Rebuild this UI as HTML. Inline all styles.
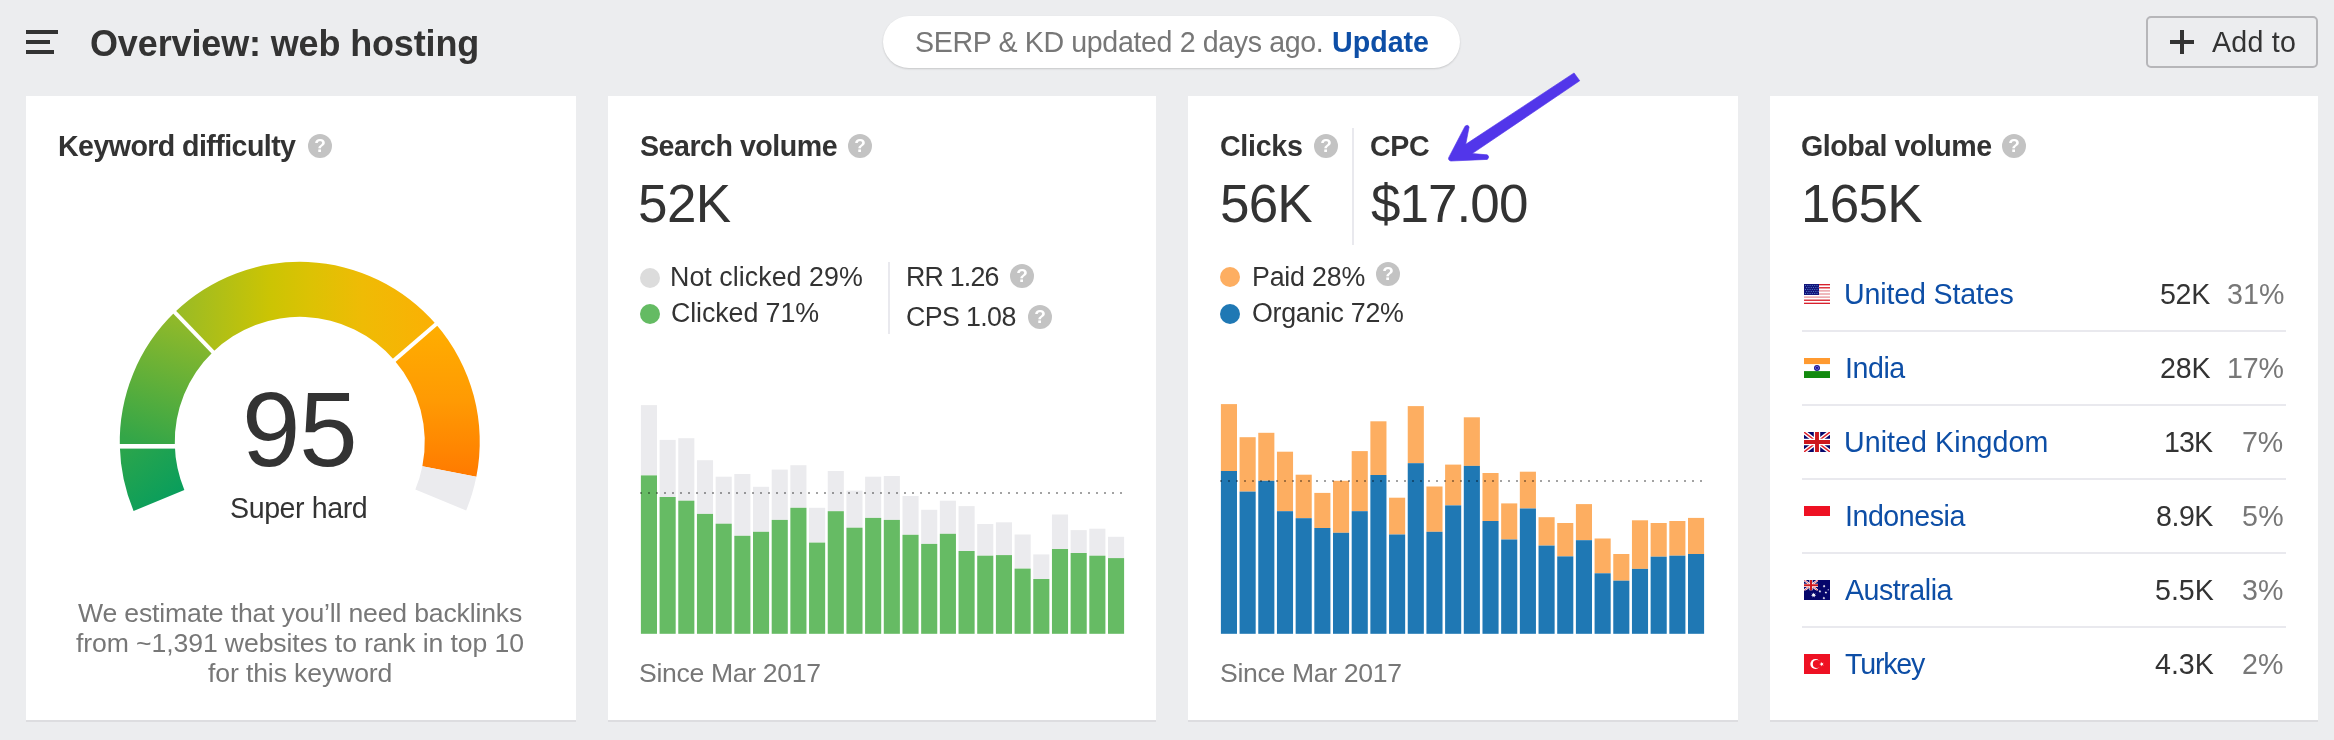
<!DOCTYPE html>
<html><head><meta charset="utf-8"><title>Overview</title><style>
*{margin:0;padding:0;box-sizing:border-box}
html,body{width:2334px;height:740px;overflow:hidden}
body{background:#ecedef;font-family:"Liberation Sans",sans-serif;color:#333;position:relative}
.card{position:absolute;top:96px;height:624px;background:#fff;box-shadow:0 2px 0 #dddde0}
.t{position:absolute;white-space:nowrap;line-height:1;will-change:transform}
.b{font-weight:bold}
.g{color:#777}
.lnk{color:#0d4ea6}
.abs{position:absolute}
.dot{position:absolute;width:20px;height:20px;border-radius:50%}
.q{position:absolute;width:24px;height:24px;border-radius:50%;background:#c3c3c3;color:#fff;font-weight:bold;font-size:19px;line-height:24px;text-align:center;will-change:transform}
.sep{position:absolute;left:1802px;width:484px;height:2px;background:#e9e9ee}
</style></head><body>
<div class="abs" style="left:26px;top:30px;width:32px;height:4px;background:#333"></div>
<div class="abs" style="left:26px;top:40px;width:24px;height:4px;background:#333"></div>
<div class="abs" style="left:26px;top:50px;width:28px;height:4px;background:#333"></div>
<div class="abs" style="left:883px;top:16px;width:577px;height:52px;border-radius:26px;background:#fff;box-shadow:0 1px 2px rgba(0,0,0,.16)"></div>
<div class="abs" style="left:2146px;top:16px;width:172px;height:52px;border:2px solid #b6b6b9;border-radius:5px"></div>
<svg class="abs" style="left:2170px;top:30px" width="24" height="24" viewBox="0 0 24 24"><path d="M12 0v24M0 12h24" stroke="#333" stroke-width="4" fill="none"/></svg>
<div class="card" style="left:26px;width:550px"></div>
<div class="q" style="left:308px;top:134px">?</div>
<svg class="abs" style="left:0;top:0" width="600" height="740" viewBox="0 0 600 740">
<defs>
<linearGradient id="g1" gradientUnits="userSpaceOnUse" x1="130" y1="446" x2="175" y2="505"><stop offset="0" stop-color="#2aa54c"/><stop offset="1" stop-color="#069d5e"/></linearGradient>
<linearGradient id="g2" gradientUnits="userSpaceOnUse" x1="190" y1="325" x2="150" y2="446"><stop offset="0" stop-color="#8fb92a"/><stop offset="1" stop-color="#33a648"/></linearGradient>
<linearGradient id="g3" gradientUnits="userSpaceOnUse" x1="176" y1="0" x2="435" y2="0"><stop offset="0" stop-color="#98bb26"/><stop offset="0.36" stop-color="#cbc404"/><stop offset="0.52" stop-color="#dcc204"/><stop offset="0.72" stop-color="#efbb05"/><stop offset="1" stop-color="#fbb004"/></linearGradient>
<linearGradient id="g4" gradientUnits="userSpaceOnUse" x1="0" y1="325" x2="0" y2="477"><stop offset="0" stop-color="#ffae00"/><stop offset="0.5" stop-color="#ff9a03"/><stop offset="1" stop-color="#ff7a00"/></linearGradient>
</defs>
<path d="M133.57 511.02A180.0 180.0 0 0 1 119.81 446.56L174.79 445.12A125.0 125.0 0 0 0 184.35 489.89Z" fill="url(#g1)"/>
<path d="M119.81 446.56A180.0 180.0 0 0 1 174.71 312.37L212.92 351.93A125.0 125.0 0 0 0 174.79 445.12Z" fill="url(#g2)"/>
<path d="M174.71 312.37A180.0 180.0 0 0 1 436.01 324.23L394.37 360.17A125.0 125.0 0 0 0 212.92 351.93Z" fill="url(#g3)"/>
<path d="M436.01 324.23A180.0 180.0 0 0 1 476.32 476.81L422.37 466.13A125.0 125.0 0 0 0 394.37 360.17Z" fill="url(#g4)"/>
<path d="M476.32 476.81A180.0 180.0 0 0 1 466.17 510.44L415.32 489.48A125.0 125.0 0 0 0 422.37 466.13Z" fill="#ebebee"/>
<rect x="115" y="444" width="65" height="4.6" fill="#fff"/>
<line x1="172.63" y1="310.21" x2="215.00" y2="354.09" stroke="#fff" stroke-width="4"/>
<line x1="438.28" y1="322.27" x2="392.10" y2="362.13" stroke="#fff" stroke-width="4"/>
</svg>
<div class="card" style="left:608px;width:548px"></div>
<div class="q" style="left:848px;top:134px">?</div>
<div class="dot" style="left:640px;top:268px;background:#dcdcdc"></div>
<div class="dot" style="left:640px;top:304px;background:#64bb63"></div>
<div class="abs" style="left:888px;top:262px;width:2px;height:72px;background:#e9e9ee"></div>
<div class="q" style="left:1010px;top:264px">?</div>
<div class="q" style="left:1028px;top:305px">?</div>
<svg class="abs" style="left:0;top:0" width="2334" height="740" viewBox="0 0 2334 740">
<rect x="640.90" y="405.1" width="16.1" height="70.3" fill="#ebebee"/>
<rect x="640.90" y="475.4" width="16.1" height="158.4" fill="#66bb64"/>
<rect x="659.58" y="439.9" width="16.1" height="57.1" fill="#ebebee"/>
<rect x="659.58" y="497.0" width="16.1" height="136.8" fill="#66bb64"/>
<rect x="678.27" y="438.2" width="16.1" height="62.5" fill="#ebebee"/>
<rect x="678.27" y="500.7" width="16.1" height="133.1" fill="#66bb64"/>
<rect x="696.95" y="460.2" width="16.1" height="53.7" fill="#ebebee"/>
<rect x="696.95" y="513.9" width="16.1" height="119.9" fill="#66bb64"/>
<rect x="715.64" y="476.7" width="16.1" height="47.0" fill="#ebebee"/>
<rect x="715.64" y="523.7" width="16.1" height="110.1" fill="#66bb64"/>
<rect x="734.32" y="474.0" width="16.1" height="61.8" fill="#ebebee"/>
<rect x="734.32" y="535.8" width="16.1" height="98.0" fill="#66bb64"/>
<rect x="753.00" y="486.8" width="16.1" height="45.0" fill="#ebebee"/>
<rect x="753.00" y="531.8" width="16.1" height="102.0" fill="#66bb64"/>
<rect x="771.69" y="469.6" width="16.1" height="50.3" fill="#ebebee"/>
<rect x="771.69" y="519.9" width="16.1" height="113.9" fill="#66bb64"/>
<rect x="790.37" y="465.2" width="16.1" height="42.6" fill="#ebebee"/>
<rect x="790.37" y="507.8" width="16.1" height="126.0" fill="#66bb64"/>
<rect x="809.06" y="507.8" width="16.1" height="34.8" fill="#ebebee"/>
<rect x="809.06" y="542.6" width="16.1" height="91.2" fill="#66bb64"/>
<rect x="827.74" y="471.0" width="16.1" height="40.2" fill="#ebebee"/>
<rect x="827.74" y="511.2" width="16.1" height="122.6" fill="#66bb64"/>
<rect x="846.42" y="490.6" width="16.1" height="37.1" fill="#ebebee"/>
<rect x="846.42" y="527.7" width="16.1" height="106.1" fill="#66bb64"/>
<rect x="865.11" y="476.7" width="16.1" height="41.2" fill="#ebebee"/>
<rect x="865.11" y="517.9" width="16.1" height="115.9" fill="#66bb64"/>
<rect x="883.79" y="476.0" width="16.1" height="43.9" fill="#ebebee"/>
<rect x="883.79" y="519.9" width="16.1" height="113.9" fill="#66bb64"/>
<rect x="902.48" y="496.0" width="16.1" height="38.8" fill="#ebebee"/>
<rect x="902.48" y="534.8" width="16.1" height="99.0" fill="#66bb64"/>
<rect x="921.16" y="509.8" width="16.1" height="34.1" fill="#ebebee"/>
<rect x="921.16" y="543.9" width="16.1" height="89.9" fill="#66bb64"/>
<rect x="939.84" y="500.7" width="16.1" height="33.1" fill="#ebebee"/>
<rect x="939.84" y="533.8" width="16.1" height="100.0" fill="#66bb64"/>
<rect x="958.53" y="506.1" width="16.1" height="44.9" fill="#ebebee"/>
<rect x="958.53" y="551.0" width="16.1" height="82.8" fill="#66bb64"/>
<rect x="977.21" y="524.0" width="16.1" height="31.7" fill="#ebebee"/>
<rect x="977.21" y="555.7" width="16.1" height="78.1" fill="#66bb64"/>
<rect x="995.90" y="522.3" width="16.1" height="32.8" fill="#ebebee"/>
<rect x="995.90" y="555.1" width="16.1" height="78.7" fill="#66bb64"/>
<rect x="1014.58" y="534.5" width="16.1" height="34.1" fill="#ebebee"/>
<rect x="1014.58" y="568.6" width="16.1" height="65.2" fill="#66bb64"/>
<rect x="1033.26" y="554.4" width="16.1" height="24.6" fill="#ebebee"/>
<rect x="1033.26" y="579.0" width="16.1" height="54.8" fill="#66bb64"/>
<rect x="1051.95" y="514.5" width="16.1" height="34.5" fill="#ebebee"/>
<rect x="1051.95" y="549.0" width="16.1" height="84.8" fill="#66bb64"/>
<rect x="1070.63" y="530.1" width="16.1" height="22.9" fill="#ebebee"/>
<rect x="1070.63" y="553.0" width="16.1" height="80.8" fill="#66bb64"/>
<rect x="1089.32" y="528.7" width="16.1" height="27.0" fill="#ebebee"/>
<rect x="1089.32" y="555.7" width="16.1" height="78.1" fill="#66bb64"/>
<rect x="1108.00" y="536.8" width="16.1" height="21.3" fill="#ebebee"/>
<rect x="1108.00" y="558.1" width="16.1" height="75.7" fill="#66bb64"/>
<rect x="640" y="492" width="2" height="2" fill="rgba(0,0,0,.36)"/><rect x="648" y="492" width="2" height="2" fill="rgba(0,0,0,.36)"/><rect x="656" y="492" width="2" height="2" fill="rgba(0,0,0,.36)"/><rect x="664" y="492" width="2" height="2" fill="rgba(0,0,0,.36)"/><rect x="672" y="492" width="2" height="2" fill="rgba(0,0,0,.36)"/><rect x="680" y="492" width="2" height="2" fill="rgba(0,0,0,.36)"/><rect x="688" y="492" width="2" height="2" fill="rgba(0,0,0,.36)"/><rect x="696" y="492" width="2" height="2" fill="rgba(0,0,0,.36)"/><rect x="704" y="492" width="2" height="2" fill="rgba(0,0,0,.36)"/><rect x="712" y="492" width="2" height="2" fill="rgba(0,0,0,.36)"/><rect x="720" y="492" width="2" height="2" fill="rgba(0,0,0,.36)"/><rect x="728" y="492" width="2" height="2" fill="rgba(0,0,0,.36)"/><rect x="736" y="492" width="2" height="2" fill="rgba(0,0,0,.36)"/><rect x="744" y="492" width="2" height="2" fill="rgba(0,0,0,.36)"/><rect x="752" y="492" width="2" height="2" fill="rgba(0,0,0,.36)"/><rect x="760" y="492" width="2" height="2" fill="rgba(0,0,0,.36)"/><rect x="768" y="492" width="2" height="2" fill="rgba(0,0,0,.36)"/><rect x="776" y="492" width="2" height="2" fill="rgba(0,0,0,.36)"/><rect x="784" y="492" width="2" height="2" fill="rgba(0,0,0,.36)"/><rect x="792" y="492" width="2" height="2" fill="rgba(0,0,0,.36)"/><rect x="800" y="492" width="2" height="2" fill="rgba(0,0,0,.36)"/><rect x="808" y="492" width="2" height="2" fill="rgba(0,0,0,.36)"/><rect x="816" y="492" width="2" height="2" fill="rgba(0,0,0,.36)"/><rect x="824" y="492" width="2" height="2" fill="rgba(0,0,0,.36)"/><rect x="832" y="492" width="2" height="2" fill="rgba(0,0,0,.36)"/><rect x="840" y="492" width="2" height="2" fill="rgba(0,0,0,.36)"/><rect x="848" y="492" width="2" height="2" fill="rgba(0,0,0,.36)"/><rect x="856" y="492" width="2" height="2" fill="rgba(0,0,0,.36)"/><rect x="864" y="492" width="2" height="2" fill="rgba(0,0,0,.36)"/><rect x="872" y="492" width="2" height="2" fill="rgba(0,0,0,.36)"/><rect x="880" y="492" width="2" height="2" fill="rgba(0,0,0,.36)"/><rect x="888" y="492" width="2" height="2" fill="rgba(0,0,0,.36)"/><rect x="896" y="492" width="2" height="2" fill="rgba(0,0,0,.36)"/><rect x="904" y="492" width="2" height="2" fill="rgba(0,0,0,.36)"/><rect x="912" y="492" width="2" height="2" fill="rgba(0,0,0,.36)"/><rect x="920" y="492" width="2" height="2" fill="rgba(0,0,0,.36)"/><rect x="928" y="492" width="2" height="2" fill="rgba(0,0,0,.36)"/><rect x="936" y="492" width="2" height="2" fill="rgba(0,0,0,.36)"/><rect x="944" y="492" width="2" height="2" fill="rgba(0,0,0,.36)"/><rect x="952" y="492" width="2" height="2" fill="rgba(0,0,0,.36)"/><rect x="960" y="492" width="2" height="2" fill="rgba(0,0,0,.36)"/><rect x="968" y="492" width="2" height="2" fill="rgba(0,0,0,.36)"/><rect x="976" y="492" width="2" height="2" fill="rgba(0,0,0,.36)"/><rect x="984" y="492" width="2" height="2" fill="rgba(0,0,0,.36)"/><rect x="992" y="492" width="2" height="2" fill="rgba(0,0,0,.36)"/><rect x="1000" y="492" width="2" height="2" fill="rgba(0,0,0,.36)"/><rect x="1008" y="492" width="2" height="2" fill="rgba(0,0,0,.36)"/><rect x="1016" y="492" width="2" height="2" fill="rgba(0,0,0,.36)"/><rect x="1024" y="492" width="2" height="2" fill="rgba(0,0,0,.36)"/><rect x="1032" y="492" width="2" height="2" fill="rgba(0,0,0,.36)"/><rect x="1040" y="492" width="2" height="2" fill="rgba(0,0,0,.36)"/><rect x="1048" y="492" width="2" height="2" fill="rgba(0,0,0,.36)"/><rect x="1056" y="492" width="2" height="2" fill="rgba(0,0,0,.36)"/><rect x="1064" y="492" width="2" height="2" fill="rgba(0,0,0,.36)"/><rect x="1072" y="492" width="2" height="2" fill="rgba(0,0,0,.36)"/><rect x="1080" y="492" width="2" height="2" fill="rgba(0,0,0,.36)"/><rect x="1088" y="492" width="2" height="2" fill="rgba(0,0,0,.36)"/><rect x="1096" y="492" width="2" height="2" fill="rgba(0,0,0,.36)"/><rect x="1104" y="492" width="2" height="2" fill="rgba(0,0,0,.36)"/><rect x="1112" y="492" width="2" height="2" fill="rgba(0,0,0,.36)"/><rect x="1120" y="492" width="2" height="2" fill="rgba(0,0,0,.36)"/>
</svg>
<div class="card" style="left:1188px;width:550px"></div>
<div class="q" style="left:1314px;top:134px">?</div>
<div class="abs" style="left:1352px;top:128px;width:2px;height:117px;background:#e9e9ee"></div>
<div class="dot" style="left:1220px;top:267px;background:#fdae61"></div>
<div class="q" style="left:1376px;top:262px">?</div>
<div class="dot" style="left:1220px;top:304px;background:#1f78b4"></div>
<svg class="abs" style="left:0;top:0" width="2334" height="740" viewBox="0 0 2334 740">
<rect x="1220.90" y="404.1" width="16.1" height="66.9" fill="#fdae61"/>
<rect x="1220.90" y="471.0" width="16.1" height="162.8" fill="#1f78b4"/>
<rect x="1239.58" y="437.2" width="16.1" height="54.4" fill="#fdae61"/>
<rect x="1239.58" y="491.6" width="16.1" height="142.2" fill="#1f78b4"/>
<rect x="1258.27" y="432.8" width="16.1" height="48.0" fill="#fdae61"/>
<rect x="1258.27" y="480.8" width="16.1" height="153.0" fill="#1f78b4"/>
<rect x="1276.95" y="451.7" width="16.1" height="59.5" fill="#fdae61"/>
<rect x="1276.95" y="511.2" width="16.1" height="122.6" fill="#1f78b4"/>
<rect x="1295.64" y="474.7" width="16.1" height="43.5" fill="#fdae61"/>
<rect x="1295.64" y="518.2" width="16.1" height="115.6" fill="#1f78b4"/>
<rect x="1314.32" y="492.9" width="16.1" height="35.1" fill="#fdae61"/>
<rect x="1314.32" y="528.0" width="16.1" height="105.8" fill="#1f78b4"/>
<rect x="1333.00" y="480.8" width="16.1" height="52.0" fill="#fdae61"/>
<rect x="1333.00" y="532.8" width="16.1" height="101.0" fill="#1f78b4"/>
<rect x="1351.69" y="451.1" width="16.1" height="60.1" fill="#fdae61"/>
<rect x="1351.69" y="511.2" width="16.1" height="122.6" fill="#1f78b4"/>
<rect x="1370.37" y="421.3" width="16.1" height="53.7" fill="#fdae61"/>
<rect x="1370.37" y="475.0" width="16.1" height="158.8" fill="#1f78b4"/>
<rect x="1389.06" y="497.7" width="16.1" height="36.8" fill="#fdae61"/>
<rect x="1389.06" y="534.5" width="16.1" height="99.3" fill="#1f78b4"/>
<rect x="1407.74" y="406.1" width="16.1" height="57.1" fill="#fdae61"/>
<rect x="1407.74" y="463.2" width="16.1" height="170.6" fill="#1f78b4"/>
<rect x="1426.42" y="486.5" width="16.1" height="45.3" fill="#fdae61"/>
<rect x="1426.42" y="531.8" width="16.1" height="102.0" fill="#1f78b4"/>
<rect x="1445.11" y="464.6" width="16.1" height="40.8" fill="#fdae61"/>
<rect x="1445.11" y="505.4" width="16.1" height="128.4" fill="#1f78b4"/>
<rect x="1463.79" y="417.3" width="16.1" height="48.6" fill="#fdae61"/>
<rect x="1463.79" y="465.9" width="16.1" height="167.9" fill="#1f78b4"/>
<rect x="1482.48" y="473.0" width="16.1" height="48.0" fill="#fdae61"/>
<rect x="1482.48" y="521.0" width="16.1" height="112.8" fill="#1f78b4"/>
<rect x="1501.16" y="503.4" width="16.1" height="36.1" fill="#fdae61"/>
<rect x="1501.16" y="539.5" width="16.1" height="94.3" fill="#1f78b4"/>
<rect x="1519.84" y="471.7" width="16.1" height="36.8" fill="#fdae61"/>
<rect x="1519.84" y="508.5" width="16.1" height="125.3" fill="#1f78b4"/>
<rect x="1538.53" y="517.2" width="16.1" height="28.4" fill="#fdae61"/>
<rect x="1538.53" y="545.6" width="16.1" height="88.2" fill="#1f78b4"/>
<rect x="1557.21" y="523.0" width="16.1" height="33.4" fill="#fdae61"/>
<rect x="1557.21" y="556.4" width="16.1" height="77.4" fill="#1f78b4"/>
<rect x="1575.90" y="504.1" width="16.1" height="36.1" fill="#fdae61"/>
<rect x="1575.90" y="540.2" width="16.1" height="93.6" fill="#1f78b4"/>
<rect x="1594.58" y="538.5" width="16.1" height="34.8" fill="#fdae61"/>
<rect x="1594.58" y="573.3" width="16.1" height="60.5" fill="#1f78b4"/>
<rect x="1613.26" y="554.0" width="16.1" height="26.7" fill="#fdae61"/>
<rect x="1613.26" y="580.7" width="16.1" height="53.1" fill="#1f78b4"/>
<rect x="1631.95" y="520.3" width="16.1" height="48.6" fill="#fdae61"/>
<rect x="1631.95" y="568.9" width="16.1" height="64.9" fill="#1f78b4"/>
<rect x="1650.63" y="523.0" width="16.1" height="33.7" fill="#fdae61"/>
<rect x="1650.63" y="556.7" width="16.1" height="77.1" fill="#1f78b4"/>
<rect x="1669.32" y="521.0" width="16.1" height="34.7" fill="#fdae61"/>
<rect x="1669.32" y="555.7" width="16.1" height="78.1" fill="#1f78b4"/>
<rect x="1688.00" y="517.9" width="16.1" height="36.1" fill="#fdae61"/>
<rect x="1688.00" y="554.0" width="16.1" height="79.8" fill="#1f78b4"/>
<rect x="1220" y="480" width="2" height="2" fill="rgba(0,0,0,.36)"/><rect x="1228" y="480" width="2" height="2" fill="rgba(0,0,0,.36)"/><rect x="1236" y="480" width="2" height="2" fill="rgba(0,0,0,.36)"/><rect x="1244" y="480" width="2" height="2" fill="rgba(0,0,0,.36)"/><rect x="1252" y="480" width="2" height="2" fill="rgba(0,0,0,.36)"/><rect x="1260" y="480" width="2" height="2" fill="rgba(0,0,0,.36)"/><rect x="1268" y="480" width="2" height="2" fill="rgba(0,0,0,.36)"/><rect x="1276" y="480" width="2" height="2" fill="rgba(0,0,0,.36)"/><rect x="1284" y="480" width="2" height="2" fill="rgba(0,0,0,.36)"/><rect x="1292" y="480" width="2" height="2" fill="rgba(0,0,0,.36)"/><rect x="1300" y="480" width="2" height="2" fill="rgba(0,0,0,.36)"/><rect x="1308" y="480" width="2" height="2" fill="rgba(0,0,0,.36)"/><rect x="1316" y="480" width="2" height="2" fill="rgba(0,0,0,.36)"/><rect x="1324" y="480" width="2" height="2" fill="rgba(0,0,0,.36)"/><rect x="1332" y="480" width="2" height="2" fill="rgba(0,0,0,.36)"/><rect x="1340" y="480" width="2" height="2" fill="rgba(0,0,0,.36)"/><rect x="1348" y="480" width="2" height="2" fill="rgba(0,0,0,.36)"/><rect x="1356" y="480" width="2" height="2" fill="rgba(0,0,0,.36)"/><rect x="1364" y="480" width="2" height="2" fill="rgba(0,0,0,.36)"/><rect x="1372" y="480" width="2" height="2" fill="rgba(0,0,0,.36)"/><rect x="1380" y="480" width="2" height="2" fill="rgba(0,0,0,.36)"/><rect x="1388" y="480" width="2" height="2" fill="rgba(0,0,0,.36)"/><rect x="1396" y="480" width="2" height="2" fill="rgba(0,0,0,.36)"/><rect x="1404" y="480" width="2" height="2" fill="rgba(0,0,0,.36)"/><rect x="1412" y="480" width="2" height="2" fill="rgba(0,0,0,.36)"/><rect x="1420" y="480" width="2" height="2" fill="rgba(0,0,0,.36)"/><rect x="1428" y="480" width="2" height="2" fill="rgba(0,0,0,.36)"/><rect x="1436" y="480" width="2" height="2" fill="rgba(0,0,0,.36)"/><rect x="1444" y="480" width="2" height="2" fill="rgba(0,0,0,.36)"/><rect x="1452" y="480" width="2" height="2" fill="rgba(0,0,0,.36)"/><rect x="1460" y="480" width="2" height="2" fill="rgba(0,0,0,.36)"/><rect x="1468" y="480" width="2" height="2" fill="rgba(0,0,0,.36)"/><rect x="1476" y="480" width="2" height="2" fill="rgba(0,0,0,.36)"/><rect x="1484" y="480" width="2" height="2" fill="rgba(0,0,0,.36)"/><rect x="1492" y="480" width="2" height="2" fill="rgba(0,0,0,.36)"/><rect x="1500" y="480" width="2" height="2" fill="rgba(0,0,0,.36)"/><rect x="1508" y="480" width="2" height="2" fill="rgba(0,0,0,.36)"/><rect x="1516" y="480" width="2" height="2" fill="rgba(0,0,0,.36)"/><rect x="1524" y="480" width="2" height="2" fill="rgba(0,0,0,.36)"/><rect x="1532" y="480" width="2" height="2" fill="rgba(0,0,0,.36)"/><rect x="1540" y="480" width="2" height="2" fill="rgba(0,0,0,.36)"/><rect x="1548" y="480" width="2" height="2" fill="rgba(0,0,0,.36)"/><rect x="1556" y="480" width="2" height="2" fill="rgba(0,0,0,.36)"/><rect x="1564" y="480" width="2" height="2" fill="rgba(0,0,0,.36)"/><rect x="1572" y="480" width="2" height="2" fill="rgba(0,0,0,.36)"/><rect x="1580" y="480" width="2" height="2" fill="rgba(0,0,0,.36)"/><rect x="1588" y="480" width="2" height="2" fill="rgba(0,0,0,.36)"/><rect x="1596" y="480" width="2" height="2" fill="rgba(0,0,0,.36)"/><rect x="1604" y="480" width="2" height="2" fill="rgba(0,0,0,.36)"/><rect x="1612" y="480" width="2" height="2" fill="rgba(0,0,0,.36)"/><rect x="1620" y="480" width="2" height="2" fill="rgba(0,0,0,.36)"/><rect x="1628" y="480" width="2" height="2" fill="rgba(0,0,0,.36)"/><rect x="1636" y="480" width="2" height="2" fill="rgba(0,0,0,.36)"/><rect x="1644" y="480" width="2" height="2" fill="rgba(0,0,0,.36)"/><rect x="1652" y="480" width="2" height="2" fill="rgba(0,0,0,.36)"/><rect x="1660" y="480" width="2" height="2" fill="rgba(0,0,0,.36)"/><rect x="1668" y="480" width="2" height="2" fill="rgba(0,0,0,.36)"/><rect x="1676" y="480" width="2" height="2" fill="rgba(0,0,0,.36)"/><rect x="1684" y="480" width="2" height="2" fill="rgba(0,0,0,.36)"/><rect x="1692" y="480" width="2" height="2" fill="rgba(0,0,0,.36)"/><rect x="1700" y="480" width="2" height="2" fill="rgba(0,0,0,.36)"/>
</svg>
<svg class="abs" style="left:1420px;top:60px" width="180" height="120" viewBox="0 0 1110 740"><path d="M950 80L985 128L322 577L415 585Q432 598 415 613L190 623Q168 616 180 596L278 408Q294 396 303 412L282 520Z" fill="#5236ea" stroke="#5236ea" stroke-width="4" stroke-linejoin="round"/></svg>
<div class="card" style="left:1770px;width:548px"></div>
<div class="q" style="left:2002px;top:134px">?</div>
<div class="abs" style="left:1804px;top:284px"><svg width="26" height="20" viewBox="0 0 26 20" style="display:block"><rect width="26" height="20" fill="#fff"/><rect y="0.000" width="26" height="1.35" fill="#d8202c"/><rect y="3.110" width="26" height="1.35" fill="#d8202c"/><rect y="6.220" width="26" height="1.35" fill="#e8979d"/><rect y="9.330" width="26" height="1.35" fill="#e8979d"/><rect y="12.440" width="26" height="1.35" fill="#e8979d"/><rect y="15.550" width="26" height="1.35" fill="#d8202c"/><rect y="18.660" width="26" height="1.35" fill="#d8202c"/><rect width="15" height="11" fill="#14147a"/><rect x="1.00" y="1.00" width="1" height="1" fill="#4f79c4"/><rect x="3.30" y="1.00" width="1" height="1" fill="#4f79c4"/><rect x="5.60" y="1.00" width="1" height="1" fill="#4f79c4"/><rect x="7.90" y="1.00" width="1" height="1" fill="#4f79c4"/><rect x="10.20" y="1.00" width="1" height="1" fill="#4f79c4"/><rect x="12.50" y="1.00" width="1" height="1" fill="#4f79c4"/><rect x="2.15" y="3.00" width="1" height="1" fill="#4f79c4"/><rect x="4.45" y="3.00" width="1" height="1" fill="#4f79c4"/><rect x="6.75" y="3.00" width="1" height="1" fill="#4f79c4"/><rect x="9.05" y="3.00" width="1" height="1" fill="#4f79c4"/><rect x="11.35" y="3.00" width="1" height="1" fill="#4f79c4"/><rect x="13.65" y="3.00" width="1" height="1" fill="#4f79c4"/><rect x="1.00" y="5.00" width="1" height="1" fill="#4f79c4"/><rect x="3.30" y="5.00" width="1" height="1" fill="#4f79c4"/><rect x="5.60" y="5.00" width="1" height="1" fill="#4f79c4"/><rect x="7.90" y="5.00" width="1" height="1" fill="#4f79c4"/><rect x="10.20" y="5.00" width="1" height="1" fill="#4f79c4"/><rect x="12.50" y="5.00" width="1" height="1" fill="#4f79c4"/><rect x="2.15" y="7.00" width="1" height="1" fill="#4f79c4"/><rect x="4.45" y="7.00" width="1" height="1" fill="#4f79c4"/><rect x="6.75" y="7.00" width="1" height="1" fill="#4f79c4"/><rect x="9.05" y="7.00" width="1" height="1" fill="#4f79c4"/><rect x="11.35" y="7.00" width="1" height="1" fill="#4f79c4"/><rect x="13.65" y="7.00" width="1" height="1" fill="#4f79c4"/><rect x="1.00" y="9.00" width="1" height="1" fill="#4f79c4"/><rect x="3.30" y="9.00" width="1" height="1" fill="#4f79c4"/><rect x="5.60" y="9.00" width="1" height="1" fill="#4f79c4"/><rect x="7.90" y="9.00" width="1" height="1" fill="#4f79c4"/><rect x="10.20" y="9.00" width="1" height="1" fill="#4f79c4"/><rect x="12.50" y="9.00" width="1" height="1" fill="#4f79c4"/></svg></div>
<div class="sep" style="top:330px"></div>
<div class="abs" style="left:1804px;top:358px"><svg width="26" height="20" viewBox="0 0 26 20" style="display:block"><rect width="26" height="6.3" fill="#ff9a30"/><rect y="6.3" width="26" height="6.8" fill="#fff"/><rect y="13.1" width="26" height="6.9" fill="#128a0e"/><circle cx="13" cy="9.9" r="3" fill="#1c1c8c"/><circle cx="13" cy="9.9" r="1.6" fill="none" stroke="#6a5ae0" stroke-width="0.9"/></svg></div>
<div class="sep" style="top:404px"></div>
<div class="abs" style="left:1804px;top:432px"><svg width="26" height="20" viewBox="0 0 26 20" style="display:block"><clipPath id="cgb"><rect width="26" height="20"/></clipPath><g clip-path="url(#cgb)"><rect width="26" height="20" fill="#06066b"/><path d="M0 0L26 20M26 0L0 20" stroke="#fff" stroke-width="4.2"/><path d="M0 0L26 20M26 0L0 20" stroke="#e0222c" stroke-width="1.4"/><path d="M13.0 0V20M0 10.0H26" stroke="#fff" stroke-width="6.4"/><path d="M13.0 0V20M0 10.0H26" stroke="#cc171d" stroke-width="3.9"/></g></svg></div>
<div class="sep" style="top:478px"></div>
<div class="abs" style="left:1804px;top:506px"><svg width="26" height="20" viewBox="0 0 26 20" style="display:block"><rect width="26" height="10" fill="#ee1123"/><rect y="10" width="26" height="10" fill="#fff"/></svg></div>
<div class="sep" style="top:552px"></div>
<div class="abs" style="left:1804px;top:580px"><svg width="26" height="20" viewBox="0 0 26 20" style="display:block"><rect width="26" height="20" fill="#06066b"/><clipPath id="cau"><rect width="14" height="10.6"/></clipPath><g clip-path="url(#cau)"><rect width="14" height="10.6" fill="#06066b"/><path d="M0 0L14 10.6M14 0L0 10.6" stroke="#fff" stroke-width="2.1"/><path d="M0 0L14 10.6M14 0L0 10.6" stroke="#e0222c" stroke-width="0.7"/><path d="M7.0 0V10.6M0 5.3H14" stroke="#fff" stroke-width="3.2"/><path d="M7.0 0V10.6M0 5.3H14" stroke="#cc171d" stroke-width="1.95"/></g><polygon points="9.60,12.40 10.13,14.01 11.71,13.42 10.78,14.83 12.23,15.70 10.55,15.86 10.77,17.53 9.60,16.32 8.43,17.53 8.65,15.86 6.97,15.70 8.42,14.83 7.49,13.42 9.07,14.01" fill="#fff"/><polygon points="20.10,4.70 20.39,5.59 21.27,5.26 20.76,6.05 21.56,6.53 20.63,6.62 20.75,7.55 20.10,6.88 19.45,7.55 19.57,6.62 18.64,6.53 19.44,6.05 18.93,5.26 19.81,5.59" fill="#fff"/><polygon points="15.90,9.90 16.19,10.79 17.07,10.46 16.56,11.25 17.36,11.73 16.43,11.82 16.55,12.75 15.90,12.08 15.25,12.75 15.37,11.82 14.44,11.73 15.24,11.25 14.73,10.46 15.61,10.79" fill="#fff"/><polygon points="21.90,11.20 22.17,12.03 22.99,11.73 22.51,12.46 23.26,12.91 22.39,12.99 22.51,13.86 21.90,13.23 21.29,13.86 21.41,12.99 20.54,12.91 21.29,12.46 20.81,11.73 21.63,12.03" fill="#fff"/><polygon points="19.90,16.60 20.19,17.49 21.07,17.16 20.56,17.95 21.36,18.43 20.43,18.52 20.55,19.45 19.90,18.78 19.25,19.45 19.37,18.52 18.44,18.43 19.24,17.95 18.73,17.16 19.61,17.49" fill="#fff"/><polygon points="24.20,8.90 24.44,9.47 25.06,9.52 24.59,9.93 24.73,10.53 24.20,10.21 23.67,10.53 23.81,9.93 23.34,9.52 23.96,9.47" fill="#fff"/></svg></div>
<div class="sep" style="top:626px"></div>
<div class="abs" style="left:1804px;top:654px"><svg width="26" height="20" viewBox="0 0 26 20" style="display:block"><rect width="26" height="20" fill="#ee1123"/><circle cx="11.4" cy="10" r="5.1" fill="#fff"/><circle cx="12.9" cy="10" r="4.1" fill="#ee1123"/><polygon transform="rotate(-18 17.7 10.1)" points="17.70,7.70 18.26,9.32 19.98,9.36 18.61,10.40 19.11,12.04 17.70,11.06 16.29,12.04 16.79,10.40 15.42,9.36 17.14,9.32" fill="#fff"/></svg></div>
<div class="t" style="left:90px;top:25.75px;font-size:36px;color:#333;font-weight:bold;letter-spacing:-0.139px">Overview: web hosting</div>
<div class="t" style="left:915px;top:27.95px;font-size:28.6px;color:#777;letter-spacing:-0.368px">SERP &amp; KD updated 2 days ago.</div>
<div class="t" style="left:1332px;top:27.95px;font-size:28.6px;color:#0d4ea6;font-weight:bold;letter-spacing:0.019px">Update</div>
<div class="t" style="left:2212px;top:27.95px;font-size:28.6px;color:#333;letter-spacing:0.247px">Add to</div>
<div class="t" style="left:58px;top:131.95px;font-size:28.6px;color:#333;font-weight:bold;letter-spacing:-0.578px">Keyword difficulty</div>
<div class="t" style="left:640px;top:131.95px;font-size:28.6px;color:#333;font-weight:bold;letter-spacing:-0.485px">Search volume</div>
<div class="t" style="left:1220px;top:131.95px;font-size:28.6px;color:#333;font-weight:bold;letter-spacing:-0.289px">Clicks</div>
<div class="t" style="left:1370px;top:131.95px;font-size:28.6px;color:#333;font-weight:bold;letter-spacing:-0.361px">CPC</div>
<div class="t" style="left:1801px;top:131.95px;font-size:28.6px;color:#333;font-weight:bold;letter-spacing:-0.493px">Global volume</div>
<div class="t" style="left:638px;top:177.25px;font-size:53px;color:#333;letter-spacing:-0.576px">52K</div>
<div class="t" style="left:1220px;top:177.25px;font-size:53px;color:#333;letter-spacing:-0.826px">56K</div>
<div class="t" style="left:1371px;top:177.25px;font-size:53px;color:#333;letter-spacing:-0.946px">$17.00</div>
<div class="t" style="left:1801px;top:177.25px;font-size:53px;color:#333;letter-spacing:-0.743px">165K</div>
<div class="t" style="left:242px;top:377.25px;font-size:105px;color:#333;letter-spacing:-1.196px">95</div>
<div class="t" style="left:230px;top:493.95px;font-size:28.6px;color:#333;letter-spacing:-0.419px">Super hard</div>
<div class="t" style="left:78px;top:599.95px;font-size:26.6px;color:#777;letter-spacing:-0.164px">We estimate that you’ll need backlinks</div>
<div class="t" style="left:76px;top:629.95px;font-size:26.6px;color:#777;letter-spacing:-0.098px">from ~1,391 websites to rank in top 10</div>
<div class="t" style="left:208px;top:659.95px;font-size:26.6px;color:#777;letter-spacing:-0.122px">for this keyword</div>
<div class="t" style="left:670px;top:263.85px;font-size:26.8px;color:#333;letter-spacing:0.043px">Not clicked 29%</div>
<div class="t" style="left:671px;top:299.85px;font-size:26.8px;color:#333;letter-spacing:-0.091px">Clicked 71%</div>
<div class="t" style="left:906px;top:263.85px;font-size:26.8px;color:#333;letter-spacing:-0.817px">RR 1.26</div>
<div class="t" style="left:906px;top:303.85px;font-size:26.8px;color:#333;letter-spacing:-0.628px">CPS 1.08</div>
<div class="t" style="left:1252px;top:263.85px;font-size:26.8px;color:#333;letter-spacing:-0.212px">Paid 28%</div>
<div class="t" style="left:1252px;top:299.85px;font-size:26.8px;color:#333;letter-spacing:-0.308px">Organic 72%</div>
<div class="t" style="left:639px;top:659.95px;font-size:26.6px;color:#777;letter-spacing:-0.328px">Since Mar 2017</div>
<div class="t" style="left:1220px;top:659.95px;font-size:26.6px;color:#777;letter-spacing:-0.328px">Since Mar 2017</div>
<div class="t" style="left:1844px;top:279.95px;font-size:28.6px;color:#0d4ea6;letter-spacing:-0.155px">United States</div>
<div class="t" style="left:2160px;top:279.95px;font-size:28.6px;color:#333;letter-spacing:-0.302px">52K</div>
<div class="t" style="left:2227px;top:279.95px;font-size:28.6px;color:#777;letter-spacing:0.048px">31%</div>
<div class="t" style="left:1845px;top:353.95px;font-size:28.6px;color:#0d4ea6;letter-spacing:-0.450px">India</div>
<div class="t" style="left:2160px;top:353.95px;font-size:28.6px;color:#333;letter-spacing:-0.152px">28K</div>
<div class="t" style="left:2227px;top:353.95px;font-size:28.6px;color:#777;letter-spacing:-0.152px">17%</div>
<div class="t" style="left:1844px;top:427.95px;font-size:28.6px;color:#0d4ea6;letter-spacing:0.067px">United Kingdom</div>
<div class="t" style="left:2164px;top:427.95px;font-size:28.6px;color:#333;letter-spacing:-0.852px">13K</div>
<div class="t" style="left:2242px;top:427.95px;font-size:28.6px;color:#777;letter-spacing:-0.102px">7%</div>
<div class="t" style="left:1845px;top:501.95px;font-size:28.6px;color:#0d4ea6;letter-spacing:-0.463px">Indonesia</div>
<div class="t" style="left:2156px;top:501.95px;font-size:28.6px;color:#333;letter-spacing:-0.483px">8.9K</div>
<div class="t" style="left:2242px;top:501.95px;font-size:28.6px;color:#777;letter-spacing:0.298px">5%</div>
<div class="t" style="left:1845px;top:575.95px;font-size:28.6px;color:#0d4ea6;letter-spacing:-0.481px">Australia</div>
<div class="t" style="left:2155px;top:575.95px;font-size:28.6px;color:#333">5.5K</div>
<div class="t" style="left:2242px;top:575.95px;font-size:28.6px;color:#777">3%</div>
<div class="t" style="left:1845px;top:649.95px;font-size:28.6px;color:#0d4ea6;letter-spacing:-1.206px">Turkey</div>
<div class="t" style="left:2155px;top:649.95px;font-size:28.6px;color:#333">4.3K</div>
<div class="t" style="left:2242px;top:649.95px;font-size:28.6px;color:#777">2%</div>
</body></html>
